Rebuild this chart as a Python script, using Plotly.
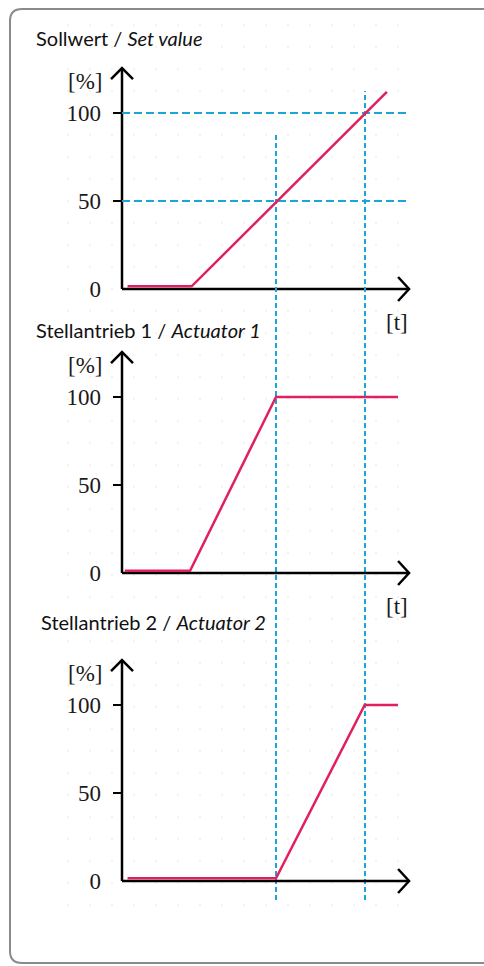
import plotly.graph_objects as go

# ---------------- data ----------------
T_SET = [0.18, 2.26, 8.6]
Y_SET = [1.5, 1.5, 112]
T_ACT1 = [0.09, 2.21, 5.0, 8.96]
Y_ACT1 = [1.3, 1.3, 100, 100]
T_ACT2 = [0.18, 5.0, 7.88, 8.96]
Y_ACT2 = [1.5, 1.5, 100, 100]
Y_TICKS = [0, 50, 100]
Y_TICK_MARKS = [50, 100]
REF_LEVELS = [50, 100]          # horizontal dashed lines (set value panel)
REF_TIMES = [5.0, 7.89]         # vertical dashed lines
REF_TIME_TOPS = [88.6, 112.5]   # in set-value units
TITLES = ["Sollwert / <i>Set value</i>",
          "Stellantrieb 1 / <i>Actuator 1</i>",
          "Stellantrieb 2 / <i>Actuator 2</i>"]
SERIES_T = [T_SET, T_ACT1, T_ACT2]
SERIES_Y = [Y_SET, Y_ACT1, Y_ACT2]

# ---------------- geometry / style ----------------
W, H = 484, 966
X0_PX = 122.0          # pixel position of t = 0
SX = 30.8              # pixels per t unit
SY = 1.76              # pixels per % unit
ZERO_PX = [289, 573, 881]
TITLE_POS = [(34, 38), (34, 330), (39, 622)]
T_AXIS_END = 9.32
Y_AXIS_END = 125.5
RED = "#e0215e"
BLUE = "#1aa5d8"
SERIF = "Liberation Serif"
SANS = "Lato"

x_range = [-X0_PX / SX, (W - X0_PX) / SX]

fig = go.Figure()

# faint dotted background grid (pixel-space axis x/y, drawn first)
gx, gy = [], []
for yy in range(25, 906, 22):
    for xx in range(68, 401, 22):
        gx.append(xx)
        gy.append(yy)
fig.add_trace(go.Scatter(x=gx, y=gy, mode="markers", xaxis="x", yaxis="y",
                         marker=dict(size=2, color="#efefef"), hoverinfo="skip",
                         showlegend=False))

layout = dict(
    width=W, height=H, margin=dict(l=0, r=0, t=0, b=0),
    paper_bgcolor="white", plot_bgcolor="rgba(0,0,0,0)",
    showlegend=False,
    xaxis=dict(domain=[0, 1], range=[0, W], visible=False, anchor="y", fixedrange=True),
    yaxis=dict(domain=[0, 1], range=[H, 0], visible=False, anchor="x", fixedrange=True),
)

shapes = []
annotations = []

for i, z in enumerate(ZERO_PX):
    sfx = str(i + 2)
    xr, yr = "x" + sfx, "y" + sfx
    layout["xaxis" + sfx] = dict(domain=[0, 1], range=x_range, visible=False,
                                 anchor=yr, fixedrange=True)
    layout["yaxis" + sfx] = dict(
        domain=[0, 1], range=[-(H - z) / SY, z / SY], anchor="free",
        position=X0_PX / W, side="left", tickmode="array", tickvals=Y_TICKS,
        ticktext=[str(v) for v in Y_TICKS], ticks="", showline=False,
        showgrid=False, zeroline=False, ticklabelstandoff=21,
        tickfont=dict(family=SERIF, size=23, color="#1a1a1a"), fixedrange=True)

    fig.add_trace(go.Scatter(x=SERIES_T[i], y=SERIES_Y[i], mode="lines",
                             xaxis=xr, yaxis=yr,
                             line=dict(color=RED, width=2.5),
                             hoverinfo="skip", showlegend=False))

    shapes.append(dict(type="line", xref=xr, yref=yr, x0=0, y0=0, x1=T_AXIS_END, y1=0,
                       line=dict(color="black", width=2.5), layer="below"))
    shapes.append(dict(type="line", xref=xr, yref=yr, x0=0, y0=0, x1=0, y1=Y_AXIS_END,
                       line=dict(color="black", width=2.5), layer="below"))
    ax, ay = 11 / SX, 11 / SY
    shapes.append(dict(type="path", xref=xr, yref=yr,
                       path=f"M {-ax},{Y_AXIS_END - ay} L 0,{Y_AXIS_END} L {ax},{Y_AXIS_END - ay}",
                       line=dict(color="black", width=2.5)))
    bx, by = 11 / SX, 12 / SY
    shapes.append(dict(type="path", xref=xr, yref=yr,
                       path=f"M {T_AXIS_END - bx},{by} L {T_AXIS_END},0 L {T_AXIS_END - bx},{-by}",
                       line=dict(color="black", width=2.5)))
    for v in Y_TICK_MARKS:
        shapes.append(dict(type="line", xref=xr, yref=yr, x0=-9 / SX, x1=0, y0=v, y1=v,
                           line=dict(color="black", width=2)))
    annotations.append(dict(text="[%]", xref=xr, yref=yr, x=-18 / SX, y=118,
                            xanchor="right", yanchor="middle", showarrow=False,
                            font=dict(family=SERIF, size=23, color="#1a1a1a")))
    if i < 2:
        annotations.append(dict(text="[t]", xref=xr, yref=yr, x=8.93, y=-19.3,
                                xanchor="center", yanchor="middle", showarrow=False,
                                font=dict(family=SERIF, size=23, color="#1a1a1a")))
    tx, ty = TITLE_POS[i]
    annotations.append(dict(text=TITLES[i], xref="paper", yref="paper",
                            x=tx / W, y=1 - ty / H, xanchor="left", yanchor="middle",
                            showarrow=False, font=dict(family=SANS, size=20, color="#111")))

for v in REF_LEVELS:
    shapes.append(dict(type="line", xref="x2", yref="y2", x0=0, x1=9.35, y0=v, y1=v,
                       line=dict(color=BLUE, width=2, dash="8px,4px"), layer="below"))
bottom = -(900 - ZERO_PX[0]) / SY
for t, top in zip(REF_TIMES, REF_TIME_TOPS):
    shapes.append(dict(type="line", xref="x2", yref="y2", x0=t, x1=t, y0=bottom, y1=top,
                       line=dict(color=BLUE, width=2, dash="5px,3px"), layer="below"))

# outer frame: left edge with rounded corners, top/bottom run out at the right edge
FRAME_COLOR = "#8a8a8a"
r = 12
left_path = f"M {10 + r},9 Q 10,9 10,{9 + r} L 10,{963 - r} Q 10,963 {10 + r},963"
shapes.append(dict(type="path", xref="x", yref="y", path=left_path,
                   line=dict(color=FRAME_COLOR, width=2)))
for yy in (9, 963):
    shapes.append(dict(type="line", xref="x", yref="y", x0=10 + r, x1=W + 2, y0=yy, y1=yy,
                       line=dict(color=FRAME_COLOR, width=2)))

layout["shapes"] = shapes
layout["annotations"] = annotations
fig.update_layout(**layout)

fig.write_html("out.html", config={"displayModeBar": False, "staticPlot": True},
               post_script="document.body.style.margin='0';document.body.style.overflow='hidden';")
